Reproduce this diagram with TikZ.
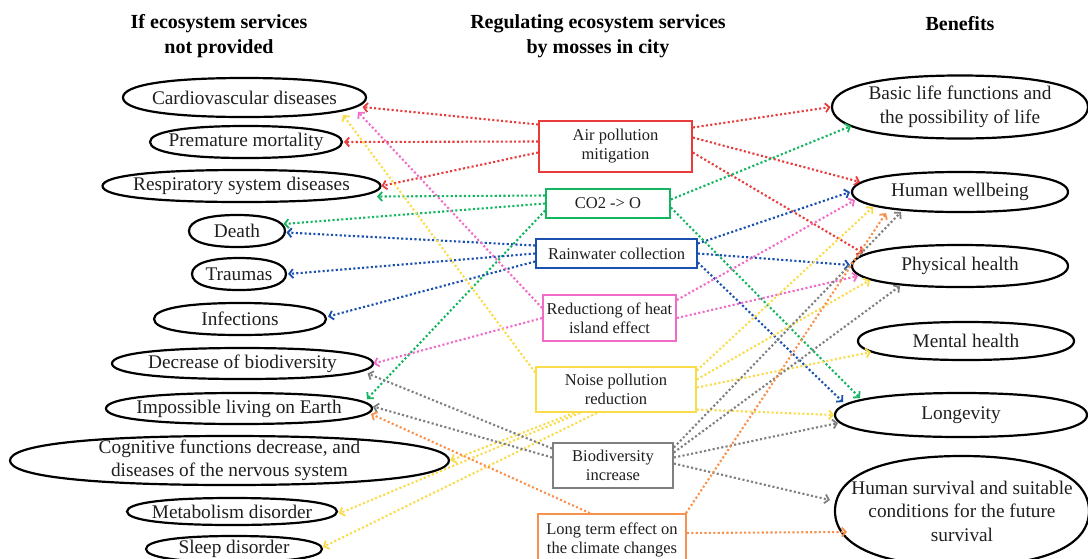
\documentclass[tikz,border=0pt]{standalone}
\usepackage{fontspec}
\setmainfont{Liberation Serif}
\usetikzlibrary{arrows.meta,shapes.geometric}

\definecolor{cRed}{HTML}{E83C3C}
\definecolor{cGreen}{HTML}{13B560}
\definecolor{cBlue}{HTML}{1A50B0}
\definecolor{cPink}{HTML}{F06CC8}
\definecolor{cYellow}{HTML}{FADB4A}
\definecolor{cGray}{HTML}{7F7F7F}
\definecolor{cOrange}{HTML}{F7914D}

% an oval with slightly blunter ends than a true ellipse (same anchors as ellipse)
\makeatletter
\newdimen\ovalA \newdimen\ovalB \newdimen\ovalKA \newdimen\ovalKB
\newdimen\ovalX \newdimen\ovalY
\def\ovalpt#1#2{\pgfpointadd{\pgfqpoint{\ovalX}{\ovalY}}{\pgfqpoint{#1}{#2}}}
\pgfdeclareshape{oval}{%
  \inheritsavedanchors[from=ellipse]%
  \inheritanchor[from=ellipse]{center}%
  \inheritanchor[from=ellipse]{north}%
  \inheritanchor[from=ellipse]{south}%
  \inheritanchor[from=ellipse]{east}%
  \inheritanchor[from=ellipse]{west}%
  \inheritanchorborder[from=ellipse]%
  \backgroundpath{%
    \pgf@process{\radius}%
    \ovalA=\pgf@x \ovalB=\pgf@y
    \pgfmathsetlength{\pgf@xb}{\pgfkeysvalueof{/pgf/outer xsep}}%
    \pgfmathsetlength{\pgf@yb}{\pgfkeysvalueof{/pgf/outer ysep}}%
    \advance\ovalA by-\pgf@xb
    \advance\ovalB by-\pgf@yb
    \ovalKA=0.64\ovalA \ovalKB=0.64\ovalB
    \pgf@process{\centerpoint}%
    \ovalX=\pgf@x \ovalY=\pgf@y
    \pgfpathmoveto{\ovalpt{\ovalA}{0pt}}%
    \pgfpathcurveto{\ovalpt{\ovalA}{\ovalKB}}{\ovalpt{\ovalKA}{\ovalB}}{\ovalpt{0pt}{\ovalB}}%
    \pgfpathcurveto{\ovalpt{-\ovalKA}{\ovalB}}{\ovalpt{-\ovalA}{\ovalKB}}{\ovalpt{-\ovalA}{0pt}}%
    \pgfpathcurveto{\ovalpt{-\ovalA}{-\ovalKB}}{\ovalpt{-\ovalKA}{-\ovalB}}{\ovalpt{0pt}{-\ovalB}}%
    \pgfpathcurveto{\ovalpt{\ovalKA}{-\ovalB}}{\ovalpt{\ovalA}{-\ovalKB}}{\ovalpt{\ovalA}{0pt}}%
    \pgfpathclose
  }%
}
\makeatother

\begin{document}
\begin{tikzpicture}[x=1pt,y=-1pt,
  oval/.style={shape=oval, draw=black, line width=2.2pt, inner sep=-40pt,
    font=\fontsize{19.3}{23.5}\selectfont, align=center, text=black!88},
  svc/.style={draw, line width=1.7pt, inner sep=0pt,
    font=\fontsize{16.5}{19}\selectfont, align=center, text=black!88},
  head/.style={font=\bfseries\fontsize{20}{25}\selectfont, align=center},
  link/.style={line width=2.1pt, dash pattern=on 2.1pt off 2.3pt,
    -{Straight Barb[length=4pt,width=9pt,line width=1.8pt]}},
]
\useasboundingbox (0,0) rectangle (1088,558);

% column headings
\node[head] (hL) at (219,36) {If ecosystem services\\not provided};
\node[head] (hM) at (598,36) {Regulating ecosystem services\\by mosses in city};
\node[head] (hR) at (960,24) {Benefits};

% consequences (left)
\node[oval, minimum width=243pt, minimum height=39pt] (cardio) at (244.5,97.5) {Cardiovascular diseases};
\node[oval, minimum width=192pt, minimum height=32pt] (prem) at (246,142) {Premature mortality};
\node[oval, minimum width=278pt, minimum height=32pt] (resp) at (241.5,186) {Respiratory system diseases};
\node[oval, minimum width=96pt, minimum height=32pt] (death) at (237,231) {Death};
\node[oval, minimum width=94pt, minimum height=32pt] (trauma) at (239,274) {Traumas};
\node[oval, minimum width=172pt, minimum height=32pt] (infect) at (240,319) {Infections};
\node[oval, minimum width=261pt, minimum height=31pt] (decbio) at (242.5,363.5) {Decrease of biodiversity};
\node[oval, minimum width=266pt, minimum height=31pt] (imposs) at (239,408.5) {Impossible living on Earth};
\node[oval, minimum width=439pt, minimum height=49pt] (cogn) at (229.5,460.5) {Cognitive functions decrease, and\\diseases of the nervous system};
\node[oval, minimum width=210pt, minimum height=27pt] (metab) at (232,511.5) {Metabolism disorder};
\node[oval, minimum width=176pt, minimum height=26pt] (sleep) at (234,549) {Sleep disorder};

% benefits (right)
\node[oval, minimum width=256pt, minimum height=63pt] (basic) at (960,107) {Basic life functions and\\the possibility of life};
\node[oval, minimum width=216pt, minimum height=40pt] (wellb) at (960,192) {Human wellbeing};
\node[oval, minimum width=216pt, minimum height=42pt] (phys) at (960,266) {Physical health};
\node[oval, minimum width=216pt, minimum height=38pt] (mental) at (966,341) {Mental health};
\node[oval, minimum width=252pt, minimum height=44pt] (longev) at (961,415) {Longevity};
\node[oval, minimum width=254pt, minimum height=110pt] (surv) at (962,511) {Human survival and suitable\\conditions for the future\\survival};

% services (middle)
\node[svc, draw=cRed, minimum width=153pt, minimum height=51pt] (air) at (615.5,146.5) {Air pollution\\mitigation};
\node[svc, draw=cGreen, minimum width=124pt, minimum height=29pt] (co2) at (608,203.5) {CO2 -> O};
\node[svc, draw=cBlue, minimum width=161pt, minimum height=29pt] (rain) at (616.5,253.5) {Rainwater collection};
\node[svc, draw=cPink, minimum width=133pt, minimum height=46pt] (heat) at (609.5,318) {Reductiong of heat\\island effect};
\node[svc, draw=cYellow, minimum width=160pt, minimum height=45pt] (noise) at (616,389.5) {Noise pollution\\reduction};
\node[svc, draw=cGray, minimum width=120pt, minimum height=45pt] (bio) at (613,465.5) {Biodiversity\\increase};
\node[svc, draw=cOrange, minimum width=148pt, minimum height=52pt] (climate) at (612,540) {Long term effect on\\the climate changes};

% air pollution mitigation
\draw[link, cRed] ([shift={(0,-22)}]air.west) -- ([shift={(118,9.5)}]cardio.center);
\draw[link, cRed] ([shift={(0,-5)}]air.west) -- ([shift={(98,0)}]prem.center);
\draw[link, cRed] ([shift={(0,6)}]air.west) -- ([shift={(140,0)}]resp.center);
\draw[link, cRed] ([shift={(0,-19)}]air.east) -- ([shift={(-129.5,0)}]basic.center);
\draw[link, cRed] ([shift={(0,-9)}]air.east) -- ([shift={(-100,-10)}]wellb.center);
\draw[link, cRed] ([shift={(0,6)}]air.east) -- ([shift={(-97,-13)}]phys.center);

% CO2 -> O
\draw[link, cGreen] ([shift={(0,-8)}]co2.west) -- ([shift={(135.5,10.5)}]resp.center);
\draw[link, cGreen] (co2.west) -- ([shift={(46.5,-7)}]death.center);
\draw[link, cGreen] ([shift={(0,7)}]co2.west) -- ([shift={(128,-9.5)}]imposs.center);
\draw[link, cGreen] ([shift={(0,-4)}]co2.east) -- ([shift={(-109,19)}]basic.center);
\draw[link, cGreen] ([shift={(0,4)}]co2.east) -- ([shift={(-101,-17)}]longev.center);

% rainwater collection
\draw[link, cBlue] ([shift={(0,-8)}]rain.west) -- ([shift={(49.5,1.5)}]death.center);
\draw[link, cBlue] (rain.west) -- ([shift={(49,0)}]trauma.center);
\draw[link, cBlue] ([shift={(0,8)}]rain.west) -- ([shift={(88,-2.5)}]infect.center);
\draw[link, cBlue] ([shift={(0,-10)}]rain.east) -- ([shift={(-110,0)}]wellb.center);
\draw[link, cBlue] (rain.east) -- ([shift={(-110,-1)}]phys.center);
\draw[link, cBlue] ([shift={(0,9)}]rain.east) -- ([shift={(-118,-13)}]longev.center);

% heat island effect
\draw[link, cPink] ([shift={(0,-10)}]heat.west) -- ([shift={(113.5,14.5)}]cardio.center);
\draw[link, cPink] (heat.west) -- ([shift={(131,0)}]decbio.center);
\draw[link, cPink] ([shift={(0,-18)}]heat.east) -- ([shift={(-105,8)}]wellb.center);
\draw[link, cPink] (heat.east) -- ([shift={(-102,10)}]phys.center);

% noise pollution reduction
\draw[link, cYellow] ([shift={(0,-17)}]noise.west) -- ([shift={(98.5,17.5)}]cardio.center);
\draw[link, cYellow] ([shift={(-42,0)}]noise.south) -- ([shift={(221,0)}]cogn.center);
\draw[link, cYellow] ([shift={(-36,0)}]noise.south) -- ([shift={(107,2)}]metab.center);
\draw[link, cYellow] ([shift={(-19,0)}]noise.south) -- ([shift={(89,-2)}]sleep.center);
\draw[link, cYellow] ([shift={(0,-19)}]noise.east) -- ([shift={(-87,15)}]wellb.center);
\draw[link, cYellow] ([shift={(0,-10)}]noise.east) -- ([shift={(-90,14)}]phys.center);
\draw[link, cYellow] ([shift={(0,-2)}]noise.east) -- ([shift={(-95,11)}]mental.center);
\draw[link, cYellow] ([shift={(0,20)}]noise.east) -- ([shift={(-127,0)}]longev.center);

% biodiversity increase
\draw[link, cGray] ([shift={(0,-17)}]bio.west) -- ([shift={(125,10)}]decbio.center);
\draw[link, cGray] ([shift={(0,-8)}]bio.west) -- ([shift={(134,-2)}]imposs.center);
\draw[link, cGray] ([shift={(0,-18)}]bio.east) -- ([shift={(-59,20)}]wellb.center);
\draw[link, cGray] ([shift={(0,-13)}]bio.east) -- ([shift={(-60,20)}]phys.center);
\draw[link, cGray] ([shift={(0,-8)}]bio.east) -- ([shift={(-123,8)}]longev.center);
\draw[link, cGray] ([shift={(0,-2)}]bio.east) -- ([shift={(-132,-11)}]surv.center);

% long term effect on the climate
\draw[link, cOrange] ([shift={(-22,0)}]climate.north) -- ([shift={(132,5.5)}]imposs.center);
\draw[link, cOrange] ([shift={(74,0)}]climate.north) -- ([shift={(-74,21)}]wellb.center);
\draw[link, cOrange] ([shift={(0,-7)}]climate.east) -- ([shift={(-115,21)}]surv.center);
\end{tikzpicture}
\end{document}
